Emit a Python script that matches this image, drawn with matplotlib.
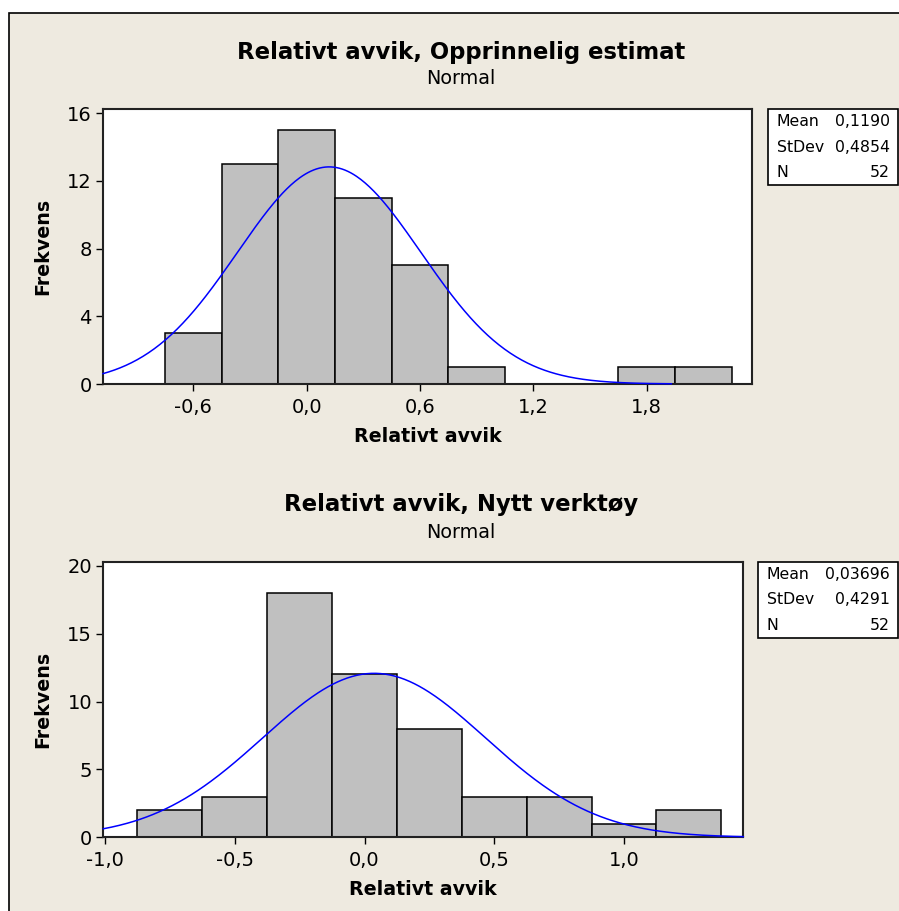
import numpy as np
import matplotlib
matplotlib.use("Agg")
import matplotlib.pyplot as plt
from matplotlib.patches import Rectangle
from matplotlib.ticker import FuncFormatter

# Data (Minitab-style histograms with normal fit)
N = 52

top_title = "Relativt avvik, Opprinnelig estimat"
top_centers = [-0.6, -0.3, 0.0, 0.3, 0.6, 0.9, 1.2, 1.5, 1.8, 2.1]
top_counts = [3, 13, 15, 11, 7, 1, 0, 0, 1, 1]
top_width = 0.3
top_mean = 0.1190
top_sd = 0.4854
top_xticks = [-0.6, 0.0, 0.6, 1.2, 1.8]
top_yticks = [0, 4, 8, 12, 16]

bot_title = "Relativt avvik, Nytt verktøy"
bot_centers = [-0.75, -0.5, -0.25, 0.0, 0.25, 0.5, 0.75, 1.0, 1.25]
bot_counts = [2, 3, 18, 12, 8, 3, 3, 1, 2]
bot_width = 0.25
bot_mean = 0.03696
bot_sd = 0.4291
bot_xticks = [-1.0, -0.5, 0.0, 0.5, 1.0]
bot_yticks = [0, 5, 10, 15, 20]

BEIGE = "#EEEAE0"
plt.rcParams['font.family'] = ['DejaVu Sans']

fig = plt.figure(figsize=(8.99, 9.11), dpi=100, facecolor="white")
W, H = 899.0, 911.0

# beige panel with black frame on top/left
fig.patches.append(Rectangle((9 / W, -0.05), 1.2, (H - 13) / H + 0.05,
                             transform=fig.transFigure, facecolor=BEIGE,
                             edgecolor="black", linewidth=1.2, zorder=-5))


def comma(v, _):
    return f"{v:.1f}".replace(".", ",")


def panel(rect, title, centers, counts, width, mean, sd, xticks, yticks,
          xlim, ylim, curve_end, title_y, box, mean_txt, sd_txt):
    ax = fig.add_axes(rect)
    ax.set_facecolor("white")
    ax.bar(centers, counts, width=width, color="#C0C0C0", edgecolor="black",
           linewidth=1.1, zorder=2)
    xs = np.linspace(xlim[0], curve_end, 400)
    ys = N * width * np.exp(-0.5 * ((xs - mean) / sd) ** 2) / (sd * np.sqrt(2 * np.pi))
    ax.plot(xs, ys, color="#0000FF", linewidth=1.1, zorder=3, clip_on=False)
    ax.set_xlim(*xlim)
    ax.set_ylim(*ylim)
    ax.set_xticks(xticks)
    ax.set_yticks(yticks)
    ax.xaxis.set_major_formatter(FuncFormatter(comma))
    ax.tick_params(direction="out", length=5, width=1, labelsize=14,
                   top=False, right=False, pad=3)
    ax.tick_params(axis="x", pad=5)
    for s in ax.spines.values():
        s.set_linewidth(1.5)
        s.set_color("#222222")
    ax.set_xlabel("Relativt avvik", fontsize=13.7, fontweight="bold", labelpad=7)
    ax.set_ylabel("Frekvens", fontsize=13.7, fontweight="bold", labelpad=11)

    fig.text(461 / W, 1 - title_y / H, title, ha="center", va="center",
             fontsize=16.4, fontweight="bold")
    fig.text(461 / W, 1 - (title_y + 27) / H, "Normal", ha="center",
             va="center", fontsize=13.8)

    # stats box
    x0, y0, x1, y1 = box
    fig.patches.append(Rectangle((x0 / W, 1 - y1 / H), (x1 - x0) / W,
                                 (y1 - y0) / H, transform=fig.transFigure,
                                 facecolor="white", edgecolor="black",
                                 linewidth=1.2))
    rows = [("Mean", mean_txt), ("StDev", sd_txt), ("N", str(N))]
    rh = (y1 - y0) / 3.0
    for i, (k, v) in enumerate(rows):
        yy = 1 - (y0 + rh * (i + 0.5)) / H
        fig.text((x0 + 9) / W, yy, k, ha="left", va="center", fontsize=11.3)
        fig.text((x1 - 8) / W, yy, v, ha="right", va="center", fontsize=11.3)
    return ax


panel([103 / W, 1 - 384 / H, 649 / W, 275 / H], top_title, top_centers,
      top_counts, top_width, top_mean, top_sd, top_xticks, top_yticks,
      (-1.078, 2.357), (0, 16.24), 1.93, 52, (768, 109, 898, 185),
      "0,1190", "0,4854")

panel([103.3 / W, 1 - 837.3 / H, 640 / W, 275 / H], bot_title, bot_centers,
      bot_counts, bot_width, bot_mean, bot_sd, bot_xticks, bot_yticks,
      (-1.0065, 1.4595), (0, 20.27), 1.4595, 505, (758, 562, 898, 638),
      "0,03696", "0,4291")

fig.savefig("out.png", dpi=100, facecolor=fig.get_facecolor())
